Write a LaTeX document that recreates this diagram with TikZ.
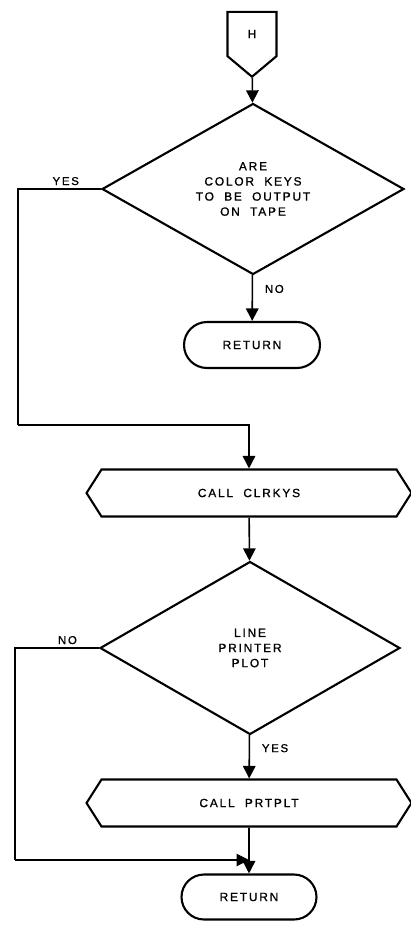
\documentclass[tikz,border=0pt]{standalone}
\usepackage{fontspec}
\usepackage{tikz}
\usetikzlibrary{arrows.meta,positioning,shapes.geometric,shapes.misc,shapes.symbols}
\newfontfamily\fcfont[LetterSpace=15,WordSpace=2,FakeBold=1]{Liberation Sans}
\tikzset{
  fcArrow/.style={-{Triangle[length=2.5mm,width=2.5mm]},line width=0.9pt,draw=black},
  fcLine/.style={line width=0.6pt,draw=black},
  fcBase/.style={draw=black,line width=1.2pt,inner sep=0pt,align=center,
    font=\fcfont\fontsize{6.8}{8.6}\selectfont},
  fcDecision/.style={fcBase,diamond},
  fcIO/.style={fcBase,signal,signal to=west and east,signal pointer angle=115},
  fcTerm/.style={fcBase,rounded rectangle},
  fcConn/.style={fcBase,signal,signal to=south,signal from=nowhere,signal pointer angle=100},
  fcLabel/.style={font=\fcfont\fontsize{6.5}{7}\selectfont,inner sep=1pt}
}
\begin{document}
\begin{tikzpicture}[x=0.02cm,y=-0.02cm]
\path[use as bounding box] (0,0) rectangle (411,947);
% main column
\node[fcConn,minimum width=0.98cm,minimum height=0.96cm] (conn) at (252,34) {H};
\node[fcDecision,minimum width=6.04cm,minimum height=3.42cm] (keys) at (253,189)
  {ARE\\COLOR KEYS\\TO BE OUTPUT\\ON TAPE};
\node[fcTerm,minimum width=2.72cm,minimum height=0.92cm] (ret1) at (252,345) {RETURN};
\node[fcIO,minimum width=6.5cm,minimum height=0.94cm] (clrkys) at (249,493) {CALL CLRKYS};
\node[fcDecision,minimum width=6cm,minimum height=3.46cm] (lpplot) at (250,648)
  {LINE\\PRINTER\\PLOT};
\node[fcIO,minimum width=6.5cm,minimum height=0.94cm] (prtplt) at (249,803) {CALL PRTPLT};
\node[fcTerm,minimum width=2.7cm,minimum height=0.9cm] (ret2) at (249,897) {RETURN};
\coordinate (yesbend) at (18,425);
\coordinate (nobend) at (15,860);
\coordinate (join) at (249,860);
% connectors
\draw[fcArrow] (conn) -- (keys);
\draw[fcArrow] (keys) -- node[right,fcLabel,pos=.3,xshift=2mm] {NO} (ret1);
\draw[fcLine] (keys.west) -| (yesbend);
\draw[fcArrow] (yesbend) -| (clrkys.north);
\node[fcLabel,above left=1pt and 4mm of keys.west] (yeslab) {YES};
\draw[fcArrow] (clrkys) -- (lpplot);
\draw[fcArrow] (lpplot) -- node[right,fcLabel,pos=.3,xshift=2mm] {YES} (prtplt);
\draw[fcLine] (lpplot.west) -| (nobend);
\draw[fcArrow,line width=0.6pt] (nobend) -- (join);
\node[fcLabel,above left=1pt and 4mm of lpplot.west] (nolab) {NO};
\draw[fcArrow] (prtplt) -- (ret2);
\end{tikzpicture}
\end{document}
